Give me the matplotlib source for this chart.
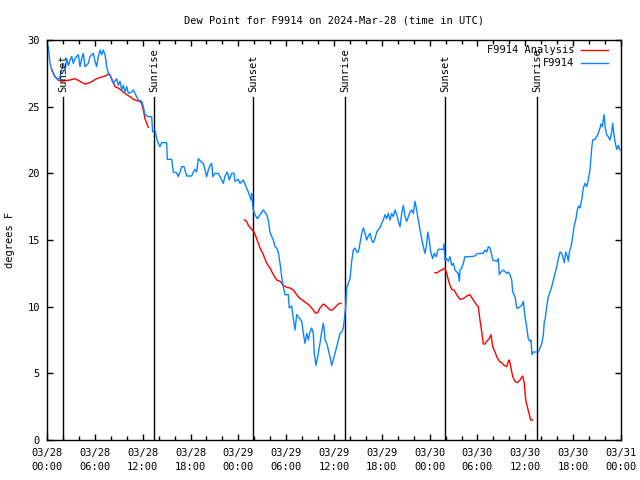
import numpy as np
import matplotlib
matplotlib.use("Agg")
import matplotlib.pyplot as plt
from matplotlib.lines import Line2D
from matplotlib.ticker import MultipleLocator

# hours since 2024-03-28 00:00 UTC, dew point in degrees F
obs_hours = [0.0, 0.16, 0.38, 0.59, 1.0, 1.42, 1.63, 2.04, 2.26, 2.47, 2.67, 2.89, 3.1, 3.3, 3.51,
             3.93, 4.14, 4.35, 4.55, 4.77, 5.18, 5.39, 5.81, 6.02, 6.23, 6.43, 6.65, 6.86, 7.06,
             7.28, 7.49, 7.69, 7.9, 8.12, 8.32, 8.74, 8.94, 9.16, 9.37, 9.57, 9.78, 10.0, 10.2,
             10.62, 10.83, 11.25, 11.45, 11.88, 12.08, 12.29, 12.71, 13.13, 13.25, 13.55, 13.76,
             13.96, 14.17, 14.39, 15.01, 15.09, 15.64, 15.84, 16.27, 16.47, 16.68, 16.9, 17.19,
             17.52, 18.15, 18.35, 18.56, 18.78, 18.98, 19.19, 19.61, 20.03, 20.23, 20.45, 20.66,
             20.79, 21.07, 21.49, 21.7, 22.12, 22.33, 22.62, 22.87, 23.17, 23.46, 23.58, 24.0,
             24.21, 24.62, 25.05, 25.25, 25.46, 25.59, 25.68, 25.75, 25.88, 26.09, 26.38, 26.72,
             27.13, 27.56, 27.76, 27.97, 28.19, 28.39, 28.6, 28.81, 29.01, 29.23, 29.44, 29.64,
             29.85, 30.27, 30.39, 30.69, 30.9, 31.11, 31.32, 31.52, 31.95, 32.15, 32.36, 32.58,
             32.78, 32.99, 33.2, 33.4, 33.53, 33.74, 33.96, 34.24, 34.46, 34.66, 34.78, 34.87,
             35.09, 35.29, 35.5, 35.71, 35.91, 36.13, 36.34, 36.54, 36.75, 36.97, 37.17, 37.29,
             37.47, 37.59, 38.01, 38.22, 38.42, 38.64, 38.85, 39.05, 39.26, 39.48, 39.68, 39.89,
             40.1, 40.3, 40.52, 40.73, 40.93, 41.14, 41.36, 41.56, 41.77, 41.98, 42.19, 42.4,
             42.61, 42.81, 43.03, 43.24, 43.44, 43.65, 43.87, 44.07, 44.28, 44.49, 44.69, 44.91,
             45.12, 45.32, 45.53, 45.75, 45.95, 46.16, 46.37, 46.57, 46.79, 47.0, 47.2, 47.42,
             47.63, 47.76, 47.95, 48.13, 48.38, 48.58, 48.8, 49.08, 49.71, 49.8, 49.92, 50.14,
             50.34, 50.55, 50.77, 50.97, 51.18, 51.39, 51.59, 51.72, 51.81, 52.02, 52.22, 52.43,
             53.06, 53.69, 53.9, 54.31, 54.73, 54.94, 55.16, 55.36, 55.57, 55.78, 55.91, 56.41,
             56.61, 56.74, 56.95, 57.24, 57.66, 57.87, 58.08, 58.29, 58.42, 58.71, 58.92, 59.12,
             59.33, 59.55, 59.75, 59.96, 60.17, 60.37, 60.59, 60.71, 60.84, 61.0, 61.63, 61.84,
             62.05, 62.26, 62.38, 62.47, 62.68, 62.88, 63.1, 63.31, 63.51, 63.72, 63.94, 64.14,
             64.35, 64.56, 64.77, 64.89, 65.07, 65.27, 65.39, 65.52, 65.73, 65.94, 66.11, 66.32,
             66.52, 66.65, 66.86, 67.07, 67.27, 67.49, 67.7, 67.9, 68.11, 68.33, 68.45, 68.74,
             68.95, 69.15, 69.37, 69.49, 69.66, 69.87, 70.03, 70.21, 70.41, 70.62, 70.83, 70.96,
             71.12, 71.29, 71.46, 71.66, 71.87]
obs_dewpt = [29.6, 29.5, 28.25, 27.75, 27.25, 27.0, 27.25, 28.25, 27.75, 28.6, 28.1, 28.5, 28.75, 28.25, 28.6,
             28.9, 28.0, 28.6, 29.0, 28.0, 28.25, 28.75, 29.0, 28.4, 28.0, 28.75, 29.25, 28.9, 29.25,
             28.9, 28.0, 27.5, 27.4, 27.0, 26.75, 27.1, 26.6, 26.9, 26.25, 26.6, 26.1, 26.5, 26.0,
             26.1, 26.25, 25.75, 25.5, 25.4, 25.0, 24.4, 24.25, 24.25, 23.1, 23.25, 22.6,
             22.25, 22.0, 22.3, 22.3, 21.05, 21.05, 20.1, 20.05, 19.75, 20.1, 20.5, 20.5,
             19.8, 19.8, 20.1, 20.3, 20.1, 21.1, 20.95, 20.75, 19.75, 20.25, 20.6, 20.75,
             19.75, 20.0, 20.0, 19.75, 19.25, 19.8, 20.1, 19.5, 20.0, 20.0, 19.4, 19.55,
             19.25, 19.5, 18.9, 18.6, 18.25, 18.0, 18.5, 17.9, 17.25, 16.9, 16.6, 16.9,
             17.25, 16.9, 16.5, 15.6, 15.25, 15.0, 14.5, 14.4, 14.1, 13.25, 12.25, 11.5,
             10.9, 10.9, 9.9, 10.05, 9.1, 8.25, 9.4, 9.25, 8.9, 8.0, 7.25, 8.0,
             7.5, 8.1, 8.4, 8.0, 6.5, 5.6, 6.25, 7.25, 8.1, 8.75, 8.25, 7.5,
             7.25, 6.75, 6.25, 5.6, 6.0, 6.5, 7.0, 7.5, 8.0, 8.1, 8.4, 9.0,
             10.0, 11.4, 12.1, 13.4, 14.25, 14.4, 14.1, 14.1, 14.75, 15.5, 15.9, 15.5,
             15.0, 15.3, 15.5, 15.0, 14.8, 15.1, 15.6, 15.8, 15.9, 16.25, 16.5, 16.9,
             16.6, 17.0, 16.5, 17.0, 16.75, 17.25, 16.9, 16.4, 16.0, 17.0, 17.6, 16.75,
             16.4, 16.75, 17.1, 17.25, 17.0, 17.9, 17.25, 16.5, 15.75, 15.1, 14.5, 14.0,
             14.75, 15.6, 15.0, 14.1, 13.6, 14.0, 13.75, 14.3, 14.3, 14.7, 13.5, 13.6,
             13.4, 13.75, 13.1, 13.25, 12.75, 12.6, 12.5, 11.9, 12.75, 12.9, 13.25, 13.75,
             13.75, 13.8, 13.95, 14.0, 14.0, 14.25, 14.1, 14.5, 14.4, 13.9, 13.5, 13.4,
             13.6, 12.4, 12.6, 12.75, 12.5, 12.6, 12.4, 12.0, 11.1, 10.75, 9.9, 9.9,
             10.0, 10.1, 10.4, 9.25, 8.5, 7.6, 7.4, 7.5, 6.4, 6.6, 6.6, 6.9,
             7.2, 7.9, 8.9, 9.0, 10.0, 10.75, 11.1, 11.5, 12.0, 12.5, 13.0, 13.6,
             14.1, 14.0, 13.6, 13.3, 14.1, 13.75, 13.4, 14.1, 14.5, 15.25, 16.0, 16.5,
             17.25, 17.55, 17.4, 18.0, 18.9, 19.25, 19.0, 19.5, 20.25, 21.9, 22.5, 22.55,
             22.75, 23.0, 23.4, 23.7, 23.5, 24.4, 23.4, 22.9, 22.75, 22.5, 23.1, 23.75,
             22.9, 22.25, 21.8, 22.1, 21.75]

# analysis runs (three separate pieces)
ana1_hours = [0.59, 1.0, 1.42, 1.84, 2.26, 2.89, 3.51, 4.77, 5.39, 6.23, 7.28, 7.81, 8.12, 8.53,
              8.94, 9.57, 10.0, 10.41, 10.83, 11.25, 11.66, 11.88, 12.08, 12.29, 12.51, 12.71]
ana1_dewpt = [27.8, 27.25, 27.0, 26.9, 26.95, 27.0, 27.1, 26.7, 26.8, 27.1, 27.3, 27.45, 27.1, 26.5,
              26.4, 26.1, 25.9, 25.75, 25.55, 25.45, 25.4, 25.25, 24.75, 24.1, 23.75, 23.45]
ana2_hours = [24.75, 25.05, 25.25, 25.68, 25.97, 26.3, 26.72, 27.13, 27.56, 27.97, 28.39, 28.81,
              29.23, 29.64, 30.07, 30.48, 30.9, 31.32, 31.74, 32.15, 32.58, 32.99, 33.4, 33.71,
              33.96, 34.24, 34.66, 35.09, 35.5, 35.79, 36.13, 36.54, 36.88]
ana2_dewpt = [16.5, 16.4, 16.1, 15.8, 15.6, 15.1, 14.4, 13.9, 13.25, 12.9, 12.4, 12.0,
              11.9, 11.6, 11.45, 11.4, 11.25, 10.9, 10.6, 10.45, 10.25, 10.05, 9.75, 9.5,
              9.55, 9.9, 10.2, 10.0, 9.75, 9.75, 9.95, 10.2, 10.25]
ana3_hours = [48.67, 48.96, 49.3, 49.71, 49.92, 50.14, 50.34, 50.55, 50.77, 51.05, 51.39, 51.81,
              52.22, 52.65, 53.06, 53.47, 53.81, 54.1, 54.31, 54.53, 54.73, 54.94, 55.16, 55.48,
              55.69, 55.91, 56.2, 56.41, 56.74, 57.04, 57.33, 57.66, 57.87, 57.99, 58.17, 58.42,
              58.71, 59.0, 59.33, 59.67, 59.87, 60.05, 60.25, 60.46, 60.67, 60.93]
ana3_dewpt = [12.55, 12.55, 12.7, 12.8, 12.9, 12.5, 12.0, 11.6, 11.3, 11.25, 10.9, 10.55,
              10.6, 10.8, 10.9, 10.5, 10.2, 10.0, 9.0, 8.1, 7.2, 7.2, 7.4, 7.6,
              7.9, 7.0, 6.6, 6.25, 5.9, 5.8, 5.6, 5.5, 5.9, 6.0, 5.5, 4.75,
              4.4, 4.3, 4.5, 4.8, 4.25, 3.0, 2.5, 2.0, 1.5, 1.5]

sun_hours = [2.0, 13.42, 25.85, 37.38, 49.9, 61.46]
sun_labels = ["Sunset", "Sunrise", "Sunset", "Sunrise", "Sunset", "Sunrise"]

tick_hours = list(range(0, 73, 6))
tick_labels = ["03/28\n00:00", "03/28\n06:00", "03/28\n12:00", "03/28\n18:00",
               "03/29\n00:00", "03/29\n06:00", "03/29\n12:00", "03/29\n18:00",
               "03/30\n00:00", "03/30\n06:00", "03/30\n12:00", "03/30\n18:00",
               "03/31\n00:00"]

red = "#ff0000"
blue = "#0a84ff"
plt.rcParams['font.family'] = "DejaVu Sans Mono"
plt.rcParams['font.size'] = 7.5

fig = plt.figure(figsize=(6.4, 4.8), dpi=100)
ax = fig.add_axes([47/640, 40/480, 574/640, 400/480])

for h, lab in zip(sun_hours, sun_labels):
    ax.plot([h, h], [0, 25.7], color="black", lw=1.0)
    ax.text(h, 26.1, lab, rotation=90, ha="center", va="bottom", fontsize=7.5)

for hh, vv in [(ana1_hours, ana1_dewpt), (ana2_hours, ana2_dewpt), (ana3_hours, ana3_dewpt)]:
    ax.plot(hh, vv, color=red, lw=1.0)
ax.plot(obs_hours, obs_dewpt, color=blue, lw=1.0)

ax.set_xlim(0, 72)
ax.set_ylim(0, 30)
ax.set_xticks(tick_hours)
ax.set_xticklabels(tick_labels, linespacing=1.45)
ax.xaxis.set_minor_locator(MultipleLocator(2))
ax.set_yticks(range(0, 31, 5))
ax.tick_params(which="major", direction="in", length=4, width=1, top=True, right=True, pad=5)
ax.tick_params(which="minor", direction="in", length=3, width=1, top=True, right=True)
ax.tick_params(axis="x", pad=6)
for s in ax.spines.values():
    s.set_linewidth(1.0)

ax.set_ylabel("degrees F", labelpad=9)
ax.set_title("Dew Point for F9914 on 2024-Mar-28 (time in UTC)", fontsize=7.5, pad=12)

# key in the top right corner
ax.text(0.919, 0.975, "F9914 Analysis", transform=ax.transAxes, ha="right", va="center")
ax.add_line(Line2D([0.93, 0.977], [0.975, 0.975], transform=ax.transAxes, color=red, lw=1.0))
ax.text(0.919, 0.942, "F9914", transform=ax.transAxes, ha="right", va="center")
ax.add_line(Line2D([0.93, 0.977], [0.942, 0.942], transform=ax.transAxes, color=blue, lw=1.0))

fig.savefig("out.png", dpi=100)
